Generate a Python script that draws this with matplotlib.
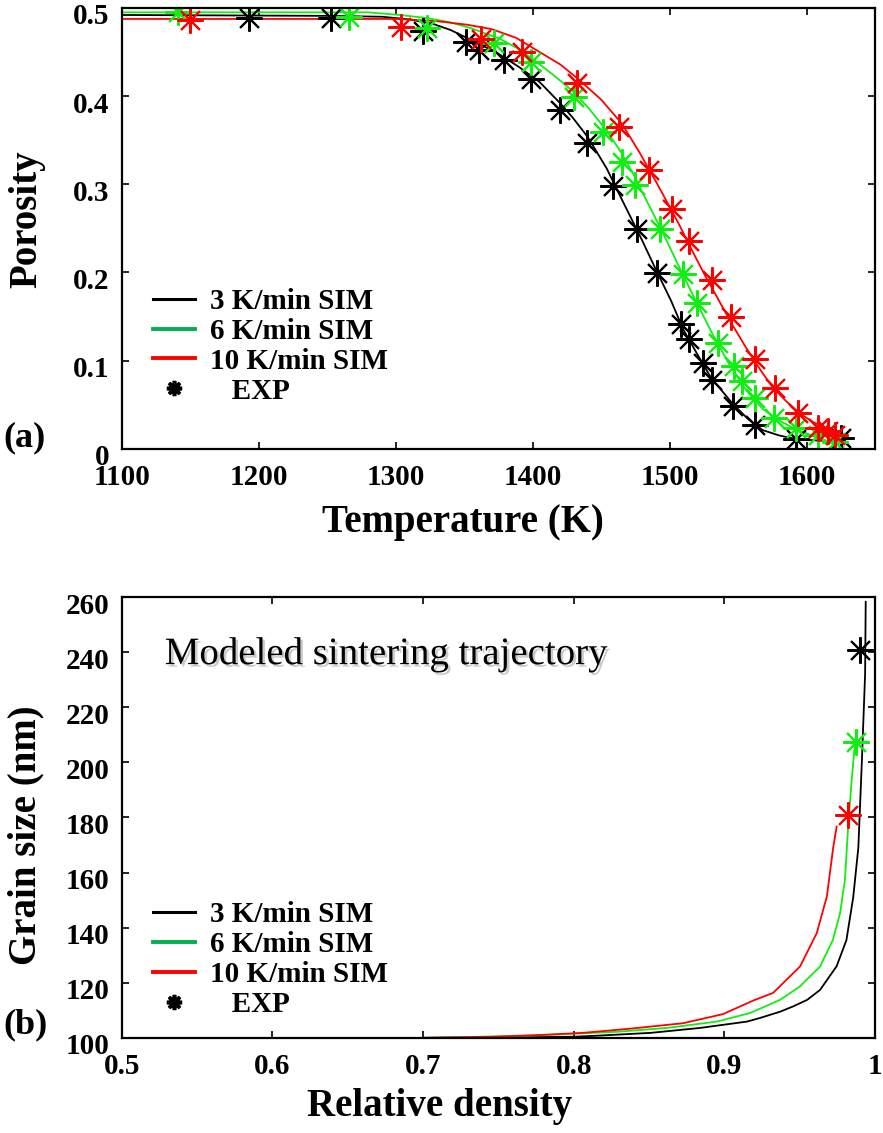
import matplotlib
matplotlib.use("Agg")
import matplotlib.pyplot as plt
import matplotlib.patheffects as pe
from matplotlib.lines import Line2D
from matplotlib.transforms import ScaledTranslation

plt.rcParams['font.family'] = ['Liberation Serif', 'DejaVu Serif']
plt.rcParams['font.weight'] = 'bold'

GREEN = '#11ee11'
RED = '#ff0000'
BLACK = '#000000'
LEG_GREEN = '#00b050'

# ---- panel (a): porosity vs temperature ----
sim3_T = [1100, 1250, 1290, 1310, 1327, 1340, 1352, 1365, 1376, 1390, 1405, 1420, 1429, 1440,
          1454, 1465, 1473, 1480, 1490, 1501, 1510, 1521, 1530, 1546, 1557, 1568, 1580, 1592,
          1610, 1628]
sim3_P = [0.492, 0.491, 0.490, 0.487, 0.482, 0.475, 0.466, 0.456, 0.447, 0.433, 0.416, 0.392,
          0.376, 0.354, 0.318, 0.283, 0.258, 0.236, 0.203, 0.168, 0.135, 0.105, 0.081, 0.051,
          0.034, 0.021, 0.015, 0.011, 0.009, 0.009]

sim6_T = [1100, 1280, 1303, 1320, 1339, 1355, 1376, 1388, 1400, 1415, 1429, 1441, 1454, 1465,
          1473, 1483, 1495, 1507, 1519, 1531, 1543, 1556, 1568, 1580, 1592, 1604, 1616, 1627]
sim6_P = [0.495, 0.495, 0.492, 0.489, 0.484, 0.477, 0.465, 0.455, 0.442, 0.424, 0.406, 0.386,
          0.361, 0.335, 0.313, 0.282, 0.245, 0.206, 0.168, 0.131, 0.097, 0.066, 0.045, 0.032,
          0.022, 0.015, 0.008, 0.002]

sim10_T = [1100, 1300, 1330, 1352, 1370, 1388, 1405, 1420, 1432, 1450, 1465, 1478, 1490, 1497,
           1507, 1516, 1526, 1536, 1546, 1556, 1566, 1575, 1585, 1595, 1605, 1614, 1628]
sim10_P = [0.4875, 0.4875, 0.485, 0.481, 0.476, 0.466, 0.450, 0.436, 0.421, 0.396, 0.369, 0.336,
           0.303, 0.283, 0.254, 0.226, 0.196, 0.168, 0.140, 0.114, 0.090, 0.070, 0.054, 0.040,
           0.030, 0.023, 0.016]

exp3_T = [1193, 1253, 1320, 1351, 1361, 1379, 1399, 1420, 1440, 1459, 1476, 1491, 1508, 1514,
          1524, 1531, 1546, 1562, 1592, 1625]
exp3_P = [0.489, 0.489, 0.474, 0.461, 0.452, 0.441, 0.419, 0.384, 0.347, 0.298, 0.249, 0.199,
          0.141, 0.124, 0.097, 0.078, 0.048, 0.027, 0.011, 0.012]

exp6_T = [1141, 1266, 1323, 1372, 1399, 1430, 1451, 1465, 1475, 1493, 1510, 1520, 1535, 1547,
          1553, 1562, 1576, 1592, 1608, 1621]
exp6_P = [0.495, 0.490, 0.477, 0.460, 0.439, 0.399, 0.359, 0.325, 0.299, 0.249, 0.198, 0.165,
          0.120, 0.094, 0.077, 0.058, 0.035, 0.023, 0.016, 0.007]

exp10_T = [1150, 1304, 1362, 1392, 1432, 1463, 1485, 1502, 1514, 1531, 1545, 1562, 1577, 1594,
           1608, 1616, 1621]
exp10_P = [0.486, 0.478, 0.465, 0.450, 0.415, 0.365, 0.316, 0.272, 0.236, 0.191, 0.149, 0.102,
           0.069, 0.041, 0.024, 0.020, 0.015]

# ---- panel (b): grain size vs relative density ----
traj3_rho = [0.70, 0.75, 0.80, 0.813, 0.851, 0.884, 0.915, 0.9236, 0.937, 0.9456, 0.955,
             0.9635, 0.9745, 0.981, 0.9855, 0.9889, 0.9912, 0.9934, 0.9938]
traj3_G = [100.0, 100.1, 100.4, 100.7, 101.8, 103.6, 105.9, 107.2, 109.5, 111.4, 113.8,
           117.4, 126.0, 135.5, 151.0, 169.0, 199.8, 232.0, 258.3]

traj6_rho = [0.70, 0.75, 0.784, 0.829, 0.862, 0.895, 0.917, 0.932, 0.937, 0.950, 0.9635,
             0.972, 0.9768, 0.980, 0.982, 0.9845, 0.9867]
traj6_G = [100.0, 100.5, 101.1, 102.2, 103.6, 105.9, 109.0, 112.6, 113.8, 118.6, 125.9,
           135.5, 145.3, 157.3, 175.5, 193.6, 207.5]

traj10_rho = [0.70, 0.746, 0.773, 0.806, 0.839, 0.8725, 0.899, 0.919, 0.9323, 0.9502, 0.9613,
              0.968, 0.9722, 0.9745]
traj10_G = [100.0, 100.4, 100.9, 101.8, 103.4, 105.3, 108.6, 113.5, 116.3, 125.9, 138.0,
            151.3, 169.0, 176.7]

final_rho = [0.990, 0.9874, 0.9823]
final_G = [240.8, 207.5, 180.9]

temp_ticks = [1100, 1200, 1300, 1400, 1500, 1600]
por_ticks = [0, 0.1, 0.2, 0.3, 0.4, 0.5]
por_labels = ['0', '0.1', '0.2', '0.3', '0.4', '0.5']
rho_ticks = [0.5, 0.6, 0.7, 0.8, 0.9, 1.0]
rho_labels = ['0.5', '0.6', '0.7', '0.8', '0.9', '1']
gs_ticks = [100, 120, 140, 160, 180, 200, 220, 240, 260]

legend_labels = ['3 K/min SIM', '6 K/min SIM', '10 K/min SIM', '   EXP']

STAR = dict(marker=(8, 2, 0), markersize=19, markeredgewidth=1.5, linestyle='none',
            markerfacecolor='none')


def style_axes(ax):
    for s in ax.spines.values():
        s.set_linewidth(1.6)
    ax.tick_params(direction='in', top=True, right=True, length=5, width=1.2,
                   labelsize=21)
    ax.tick_params(axis='x', pad=11)
    ax.tick_params(axis='y', pad=9)
    # y tick labels sit a little below their ticks in the original
    shift = ScaledTranslation(0, -6 / 100, ax.figure.dpi_scale_trans)
    for lab in ax.get_yticklabels():
        lab.set_transform(lab.get_transform() + shift)


def add_legend(ax, y_anchor):
    handles = [Line2D([], [], color=BLACK, lw=2.2),
               Line2D([], [], color=LEG_GREEN, lw=2.8),
               Line2D([], [], color=RED, lw=2.8),
               Line2D([], [], color=BLACK, marker=(8, 2, 0), markersize=11,
                      markeredgewidth=2.6, linestyle='none')]
    ax.legend(handles, legend_labels, loc='upper left', bbox_to_anchor=(0.041, y_anchor),
              frameon=False, handlelength=1.45, handletextpad=0.5,
              labelspacing=0.1, borderpad=0, borderaxespad=0,
              prop={'weight': 'bold', 'size': 21})


fig = plt.figure(figsize=(8.83, 11.33), dpi=100)
ax1 = fig.add_axes([0.138, 0.604, 0.853, 0.389])
ax2 = fig.add_axes([0.138, 0.084, 0.853, 0.389])

# (a)
ax1.plot(sim3_T, sim3_P, color=BLACK, lw=1.3)
ax1.plot(sim6_T, sim6_P, color=GREEN, lw=1.3)
ax1.plot(sim10_T, sim10_P, color=RED, lw=1.3)
ax1.plot(exp3_T, exp3_P, color=BLACK, markeredgecolor=BLACK, **STAR)
ax1.plot(exp6_T, exp6_P, color=GREEN, markeredgecolor=GREEN, **STAR)
ax1.plot(exp10_T, exp10_P, color=RED, markeredgecolor=RED, **STAR)
ax1.set_xlim(1100, 1650)
ax1.set_ylim(0, 0.5)
ax1.set_xticks(temp_ticks)
ax1.set_yticks(por_ticks, por_labels)
style_axes(ax1)
ax1.set_xlabel('Temperature (K)', fontsize=28, fontweight='bold')
ax1.set_ylabel('Porosity', fontsize=28, fontweight='bold')
ax1.xaxis.set_label_coords(0.453, -0.125)
ax1.yaxis.set_label_coords(-0.102, 0.52)
add_legend(ax1, 0.365)

# (b)
ax2.plot(traj3_rho, traj3_G, color=BLACK, lw=1.3)
ax2.plot(traj6_rho, traj6_G, color=GREEN, lw=1.3)
ax2.plot(traj10_rho, traj10_G, color=RED, lw=1.3)
ax2.plot(final_rho[0], final_G[0], color=BLACK, markeredgecolor=BLACK, **STAR)
ax2.plot(final_rho[1], final_G[1], color=GREEN, markeredgecolor=GREEN, **STAR)
ax2.plot(final_rho[2], final_G[2], color=RED, markeredgecolor=RED, **STAR)
ax2.set_xlim(0.5, 1.0)
ax2.set_ylim(100, 260)
ax2.set_xticks(rho_ticks, rho_labels)
ax2.set_yticks(gs_ticks)
style_axes(ax2)
ax2.set_xlabel('Relative density', fontsize=28, fontweight='bold')
ax2.set_ylabel('Grain size (nm)', fontsize=28, fontweight='bold')
ax2.xaxis.set_label_coords(0.422, -0.113)
ax2.yaxis.set_label_coords(-0.103, 0.46)
add_legend(ax2, 0.31)
ax2.text(0.057, 0.87, 'Modeled sintering trajectory', transform=ax2.transAxes,
         fontsize=28, fontweight='normal', va='center', ha='left',
         path_effects=[pe.withSimplePatchShadow(offset=(1.8, -1.8), shadow_rgbFace='0.55',
                                                alpha=0.45)])

fig.text(0.004, 1 - 438 / 1133, '(a)', fontsize=26, fontweight='bold', va='center')
fig.text(0.004, 1 - 1025 / 1133, '(b)', fontsize=26, fontweight='bold', va='center')

fig.savefig('out.png', dpi=100)
